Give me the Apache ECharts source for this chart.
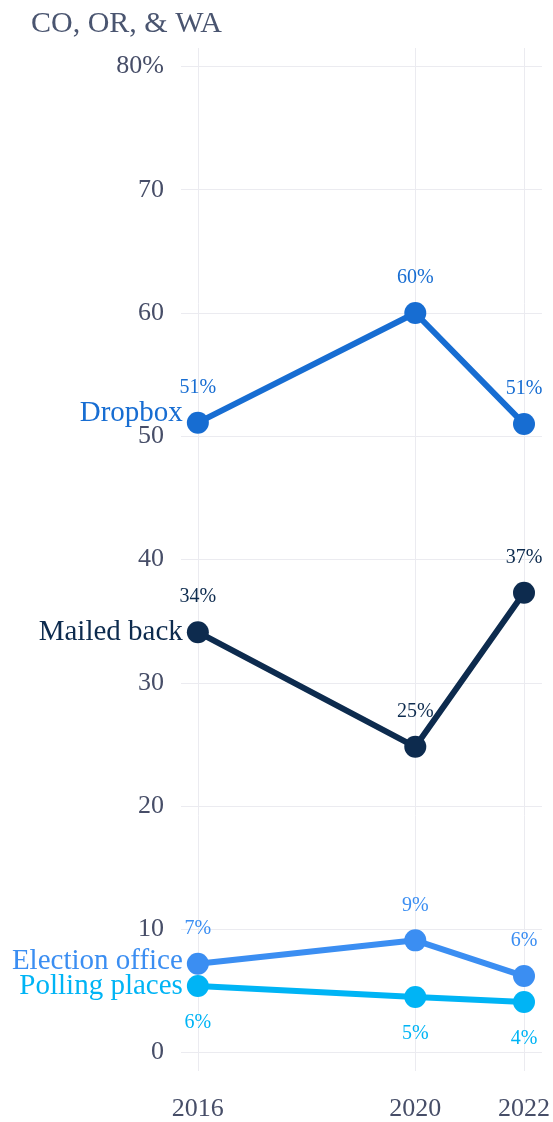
<!DOCTYPE html>
<html>
<head>
<meta charset="utf-8">
<script src="https://cdn.jsdelivr.net/npm/echarts@6/dist/echarts.min.js"></script>
<style>
  html, body { margin: 0; padding: 0; background: #fff; }
  #chart { width: 553px; height: 1122px; }
</style>
</head>
<body>
<div id="chart"></div>
<script>
// data
const years = [2016, 2020, 2022]
const yTicks = [0, 10, 20, 30, 40, 50, 60, 70, 80]

const dropbox = [51.1, 60.0, 51.0]
const mailedBack = [34.1, 24.8, 37.3]
const electionOffice = [7.2, 9.1, 6.2]
const pollingPlaces = [5.4, 4.5, 4.1]

const dropboxLabels = ['51%', '60%', '51%']
const mailedLabels = ['34%', '25%', '37%']
const officeLabels = ['7%', '9%', '6%']
const pollingLabels = ['6%', '5%', '4%']

const names = ['Dropbox', 'Mailed back', 'Election office', 'Polling places']
const colors = ['#176dd2', '#0d2b4e', '#3b8ef2', '#00b4f5']

const FONT = '"Liberation Serif", serif'
const AXIS_COLOR = '#474e68'

const chart = echarts.init(document.getElementById('chart'))

// 折线 + 数值标签
const lineSeries = (name, values, labels, color, pos) => ({
  name: name,
  type: 'line',
  data: values.map((v, i) => [years[i], v]),
  symbol: 'circle',
  symbolSize: 22,
  lineStyle: { color: color, width: 6 },
  itemStyle: { color: color },
  label: {
    show: true,
    position: pos,
    distance: pos === 'top' ? 14 : 16,
    formatter: (p) => labels[p.dataIndex],
    color: color,
    fontFamily: FONT,
    fontSize: 20
  },
  z: 3
})

// 左侧系列名称
const nameSeries = (name, value, color, dy) => ({
  type: 'scatter',
  data: [[years[0], value]],
  symbolSize: 0,
  silent: true,
  itemStyle: { opacity: 1 },
  label: {
    show: true,
    position: 'left',
    distance: 15,
    offset: [0, dy],
    formatter: name,
    color: color,
    opacity: 1,
    fontFamily: FONT,
    fontSize: 29
  },
  z: 4
})

const option = {
  animation: false,
  title: {
    text: 'CO, OR, & WA',
    left: 26,
    top: 4,
    textStyle: {
      fontFamily: FONT,
      fontSize: 30,
      fontWeight: 'normal',
      color: '#4a5570'
    }
  },
  grid: {
    left: 181,
    right: 11,
    top: 48,
    bottom: 50
  },
  xAxis: {
    type: 'value',
    min: 2015.69,
    max: 2022.33,
    axisLine: { show: false },
    axisTick: { show: false, customValues: years },
    splitLine: { show: true, lineStyle: { color: '#ebebf0', width: 1 } },
    axisLabel: {
      customValues: years,
      margin: 25,
      formatter: (v) => String(v),
      color: AXIS_COLOR,
      fontFamily: FONT,
      fontSize: 26
    }
  },
  yAxis: {
    type: 'value',
    min: -1.5,
    max: 81.5,
    axisLine: { show: false },
    axisTick: { show: false, customValues: yTicks },
    splitLine: { show: true, lineStyle: { color: '#ebebf0', width: 1 } },
    axisLabel: {
      customValues: yTicks,
      margin: 17,
      formatter: (v) => (v === 80 ? '80%' : String(v)),
      color: AXIS_COLOR,
      fontFamily: FONT,
      fontSize: 26
    }
  },
  series: [
    lineSeries(names[0], dropbox, dropboxLabels, colors[0], 'top'),
    lineSeries(names[1], mailedBack, mailedLabels, colors[1], 'top'),
    lineSeries(names[2], electionOffice, officeLabels, colors[2], 'top'),
    lineSeries(names[3], pollingPlaces, pollingLabels, colors[3], 'bottom'),
    nameSeries(names[0], dropbox[0], colors[0], -9),
    nameSeries(names[1], mailedBack[0], colors[1], 0),
    nameSeries(names[2], electionOffice[0], colors[2], -2),
    nameSeries(names[3], pollingPlaces[0], colors[3], 0)
  ]
}

chart.setOption(option)
</script>
</body>
</html>
